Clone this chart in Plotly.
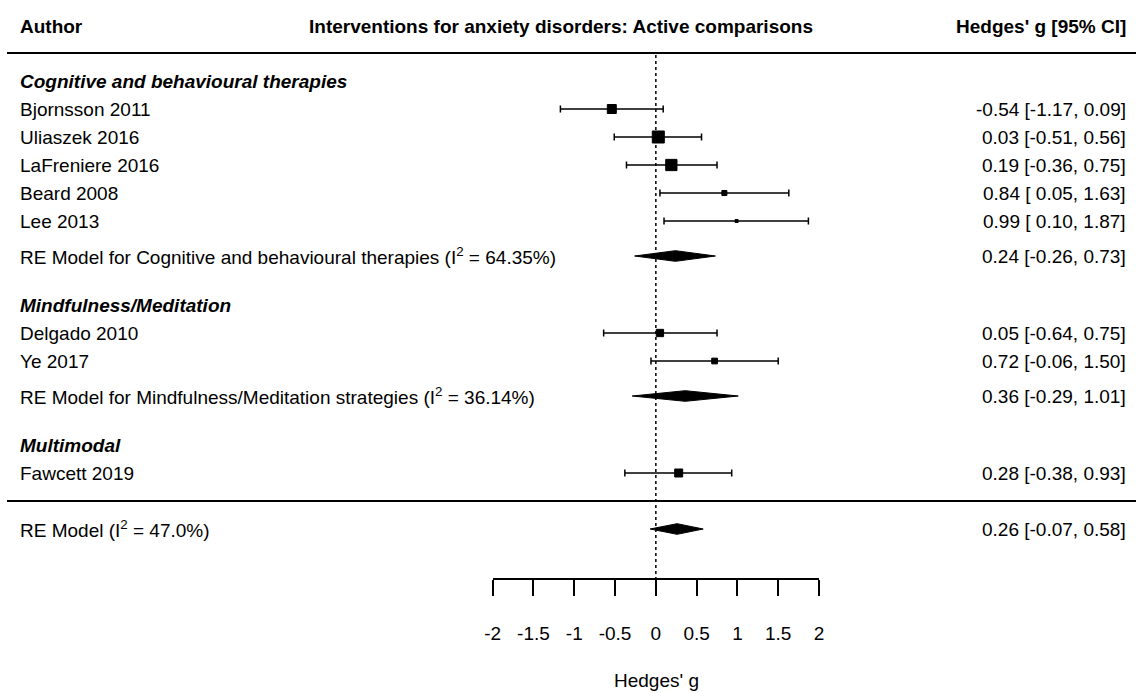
import plotly.graph_objects as go

W, H = 1136, 693

# ---------------- data ----------------
studies = ["Bjornsson 2011", "Uliaszek 2016", "LaFreniere 2016", "Beard 2008",
           "Lee 2013", "Delgado 2010", "Ye 2017", "Fawcett 2019"]
est = [-0.54, 0.03, 0.19, 0.84, 0.99, 0.05, 0.72, 0.28]
lo = [-1.17, -0.51, -0.36, 0.05, 0.10, -0.64, -0.06, -0.38]
hi = [0.09, 0.56, 0.75, 1.63, 1.87, 0.75, 1.50, 0.93]
weights = [14.4, 18.8, 17.7, 8.7, 5.8, 12.0, 9.7, 13.0]   # approx. % weights
study_rows = [15, 14, 13, 12, 11, 7, 6, 2]

groups = ["Cognitive and behavioural therapies", "Mindfulness/Meditation", "Multimodal"]
group_rows = [16, 8, 3]

pooled_labels = [
    "RE Model for Cognitive and behavioural therapies (I<sup>2</sup> = 64.35%)",
    "RE Model for Mindfulness/Meditation strategies (I<sup>2</sup> = 36.14%)",
    "RE Model (I<sup>2</sup> = 47.0%)",
]
pooled_est = [0.24, 0.36, 0.26]
pooled_lo = [-0.26, -0.29, -0.07]
pooled_hi = [0.73, 1.01, 0.58]
pooled_rows = [9.75, 4.75, 0]

tick_vals = [-2, -1.5, -1, -0.5, 0, 0.5, 1, 1.5, 2]
tick_text = ["-2", "-1.5", "-1", "-0.5", "0", "0.5", "1", "1.5", "2"]

header_left = "Author"
header_mid = "Interventions for anxiety disorders: Active comparisons"
header_right = "Hedges' g [95% CI]"
x_title = "Hedges' g"

# ---------------- layout helpers ----------------
FONT = "Liberation Sans, Arial, sans-serif"
FS = 19
ROW_PX = 28.0
ROW0_PX = 529.0                      # pixel of row 0
y_top = ROW0_PX / ROW_PX
y_bot = (ROW0_PX - H) / ROW_PX
def row_of_px(p):
    return (ROW0_PX - p) / ROW_PX

X_LEFT = 18 / W
X_RIGHT = 1128 / W
AX_PX = 579
AX_POS = (H - AX_PX) / H
dom = [492.7 / W, 819.0 / W]

def fmt_ci(e, l, h):
    return f"{e:.2f} [{l:5.2f}, {h:.2f}]"

fig = go.Figure()

# CIs + squares
sizes = [w * 0.693 - 1 for w in weights]
fig.add_trace(go.Scatter(
    x=est, y=study_rows, mode="markers",
    marker=dict(symbol="square", size=sizes, color="black", opacity=1,
                line=dict(width=1, color="black")),
    error_x=dict(type="data", symmetric=False,
                 array=[h - e for e, h in zip(est, hi)],
                 arrayminus=[e - l for e, l in zip(est, lo)],
                 color="black", thickness=1.5, width=3.5),
    cliponaxis=False, showlegend=False, hoverinfo="skip"))

# diamonds
HH = 0.19
for e, l, h, r in zip(pooled_est, pooled_lo, pooled_hi, pooled_rows):
    fig.add_trace(go.Scatter(
        x=[l, e, h, e, l], y=[r, r + HH, r, r - HH, r], mode="lines",
        fill="toself", fillcolor="black", line=dict(color="black", width=1),
        cliponaxis=False, showlegend=False, hoverinfo="skip"))

ann = []
def txt(x, y, s, anchor, bold=False, italic=False, yref="y"):
    if bold:
        s = f"<b>{s}</b>"
    if italic:
        s = f"<i>{s}</i>"
    ann.append(dict(x=x, y=y, xref="paper", yref=yref, text=s, showarrow=False,
                    xanchor=anchor, yanchor="middle",
                    font=dict(family=FONT, size=FS, color="black")))

# header
hdr_row = row_of_px(26)
txt(X_LEFT, hdr_row, header_left, "left", bold=True)
txt(560.5 / W, hdr_row, header_mid, "center", bold=True)
txt(X_RIGHT, hdr_row, header_right, "right", bold=True)

for g, r in zip(groups, group_rows):
    txt(X_LEFT, r, g, "left", bold=True, italic=True)
for s, r, e, l, h in zip(studies, study_rows, est, lo, hi):
    txt(X_LEFT, r, s, "left")
    txt(X_RIGHT, r, fmt_ci(e, l, h), "right")
for s, r, e, l, h in zip(pooled_labels, pooled_rows, pooled_est, pooled_lo, pooled_hi):
    txt(X_LEFT, r, s, "left")
    txt(X_RIGHT, r, fmt_ci(e, l, h), "right")

ann.append(dict(x=656 / W, y=(H - 680) / H, xref="paper", yref="paper", text=x_title,
                showarrow=False, xanchor="center", yanchor="middle",
                font=dict(family=FONT, size=FS, color="black")))

shapes = [
    dict(type="line", xref="paper", yref="y", x0=7 / W, x1=1.0, y0=17, y1=17,
         line=dict(color="black", width=2)),
    dict(type="line", xref="paper", yref="y", x0=7 / W, x1=1.0, y0=1, y1=1,
         line=dict(color="black", width=2)),
    dict(type="line", xref="x", yref="y", x0=0, x1=0, y0=row_of_px(55), y1=row_of_px(AX_PX),
         line=dict(color="black", width=1.5, dash="dot")),
]

fig.update_layout(
    width=W, height=H,
    margin=dict(l=0, r=0, t=0, b=0, pad=0, autoexpand=False),
    paper_bgcolor="white", plot_bgcolor="white",
    showlegend=False,
    xaxis=dict(domain=dom, range=[-2, 2], anchor="free", position=AX_POS,
               automargin=False,
               showgrid=False, zeroline=False, showline=True, linecolor="black",
               linewidth=1.5, ticks="outside", ticklen=16, tickwidth=1.5,
               tickcolor="black", tickvals=tick_vals, ticktext=tick_text,
               tickfont=dict(family=FONT, size=FS, color="black"),
               ticklabelstandoff=21, fixedrange=True),
    yaxis=dict(domain=[0, 1], range=[y_bot, y_top], visible=False, fixedrange=True,
               automargin=False),
    annotations=ann, shapes=shapes,
)

fig.write_html("out.html")
